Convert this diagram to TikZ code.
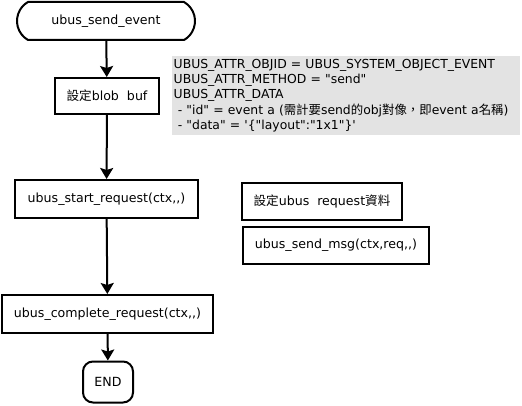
\documentclass[tikz,border=0pt]{standalone}
\usepackage{fontspec}
\setmainfont{DejaVu Sans}[Ligatures=TeXOff]
\newfontfamily\cjk{Noto Sans CJK TC}[Ligatures=TeXOff]
\usetikzlibrary{shapes.misc,arrows.meta}
\tikzset{
  txt/.style={font=\fontsize{12.6}{15}\selectfont},
  box/.style={txt,draw=black,line width=2pt,rectangle,minimum height=37pt,inner sep=0pt},
  term/.style={txt,draw=black,line width=2pt,rounded rectangle,rounded rectangle arc length=120,minimum height=38pt,inner sep=0pt},
  endbox/.style={txt,draw=black,line width=2pt,rectangle,rounded corners=10pt,minimum width=50pt,minimum height=41pt,inner sep=0pt},
  note/.style={fill=black!11,draw=none,inner xsep=1.5pt,inner ysep=3pt,minimum width=348pt,minimum height=78pt,text width=345pt,align=left,font=\fontsize{12.4}{15.2}\selectfont},
  flow/.style={line width=2pt,-{Stealth[length=11pt,width=13pt,inset=2pt]}}
}
\begin{document}
\begin{tikzpicture}[x=1pt,y=-1pt]
\useasboundingbox (0,0) rectangle (522,406);
\node[term,minimum width=178pt] (start) at (106,21) {ubus\_send\_event};
\node[box,minimum width=104pt,minimum height=36pt] (blob) at (107,96) {{\cjk 設定}blob\ \ buf};
\node[box,minimum width=183pt,minimum height=38pt] (sreq) at (106.5,199) {ubus\_start\_request(ctx,,)};
\node[box,minimum width=211pt,minimum height=38pt] (creq) at (107.5,314) {ubus\_complete\_request(ctx,,)};
\node[endbox] (end) at (108,382) {END};
\node[note,anchor=north west] (n) at (172,56) {UBUS\_ATTR\_OBJID = UBUS\_SYSTEM\_OBJECT\_EVENT\\
UBUS\_ATTR\_METHOD = "send"\\
UBUS\_ATTR\_DATA\\
\ - "id" = event a ({\cjk 需計要}send{\cjk 的}obj{\cjk 對像，即}event a{\cjk 名稱})\\
\ - "data" = '\{"layout":"1x1"\}'};
\node[box,minimum width=160pt] (req) at (322,201.5) {{\cjk 設定}ubus\ \ request{\cjk 資料}};
\node[box,minimum width=186pt] (msg) at (336,245.5) {ubus\_send\_msg(ctx,req,,)};
\draw[flow] (start) -- (blob);
\draw[flow] (blob) -- (sreq);
\draw[flow] (sreq) -- (creq);
\draw[flow] (creq) -- (end);
\end{tikzpicture}
\end{document}
